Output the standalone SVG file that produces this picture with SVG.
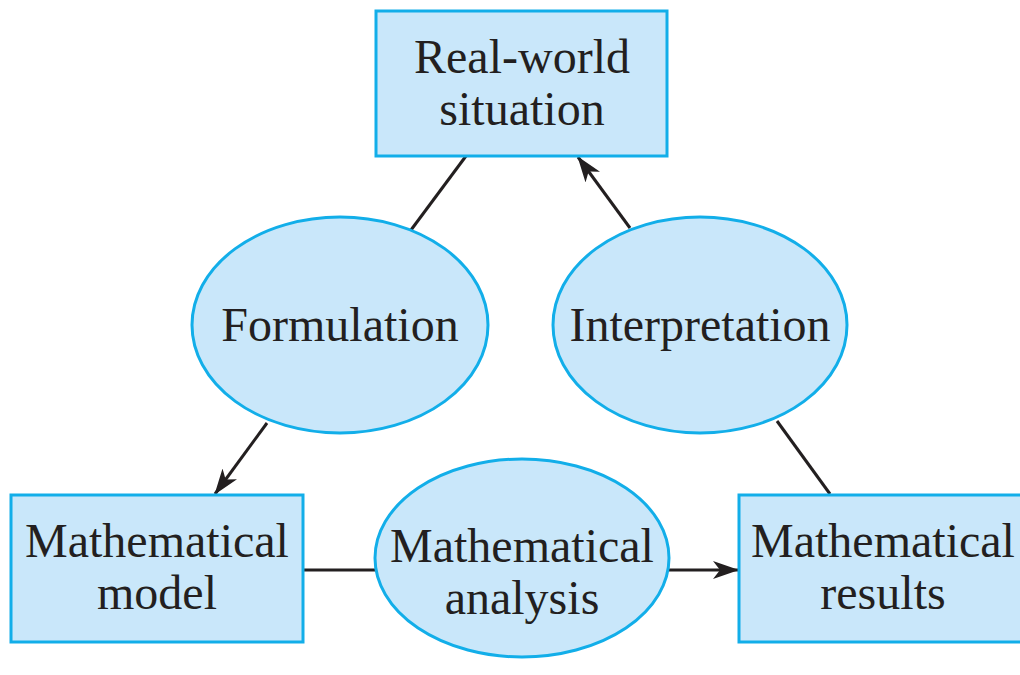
<svg xmlns="http://www.w3.org/2000/svg" width="1020" height="675" viewBox="0 0 1020 675">
<style>
.node{fill:#c9e7fa;stroke:#12aee9;stroke-width:3}
.t{font-family:"Liberation Serif","Times New Roman",serif;font-size:48px;fill:#231f20;text-anchor:middle}
.c{stroke:#231f20;stroke-width:3;fill:none}
</style>
<defs>
<marker id="ah" viewBox="0 0 26 18" refX="25" refY="9" markerWidth="26" markerHeight="18" markerUnits="userSpaceOnUse" orient="auto">
<path d="M0,0 L26,9 L0,18 L7,9 Z" fill="#231f20"/>
</marker>
</defs>
<rect width="1020" height="675" fill="#fff"/>
<g id="connectors">
<line class="c" x1="466" y1="156" x2="411" y2="230"/>
<line class="c" x1="267" y1="423" x2="215" y2="494" marker-end="url(#ah)"/>
<line class="c" x1="630" y1="228" x2="578" y2="157" marker-end="url(#ah)"/>
<line class="c" x1="777" y1="421" x2="830" y2="494"/>
<line class="c" x1="303" y1="570" x2="376" y2="570"/>
<line class="c" x1="668" y1="570" x2="738" y2="570" marker-end="url(#ah)"/>
</g>
<g id="real-world">
<rect class="node" x="376" y="11" width="291" height="145"/>
<text class="t" x="522" y="73">Real-world</text>
<text class="t" x="522" y="125">situation</text>
</g>
<g id="formulation">
<ellipse class="node" cx="340" cy="325" rx="148" ry="108"/>
<text class="t" x="340" y="341">Formulation</text>
</g>
<g id="interpretation">
<ellipse class="node" cx="700" cy="325" rx="147" ry="108"/>
<text class="t" x="700" y="341">Interpretation</text>
</g>
<g id="model">
<rect class="node" x="11" y="495" width="292" height="147"/>
<text class="t" x="157" y="557">Mathematical</text>
<text class="t" x="157" y="609">model</text>
</g>
<g id="analysis">
<ellipse class="node" cx="522" cy="558" rx="147" ry="99"/>
<text class="t" x="522" y="562">Mathematical</text>
<text class="t" x="522" y="614">analysis</text>
</g>
<g id="results">
<rect class="node" x="739" y="495" width="290" height="147"/>
<text class="t" x="883" y="557">Mathematical</text>
<text class="t" x="883" y="609">results</text>
</g>
</svg>
